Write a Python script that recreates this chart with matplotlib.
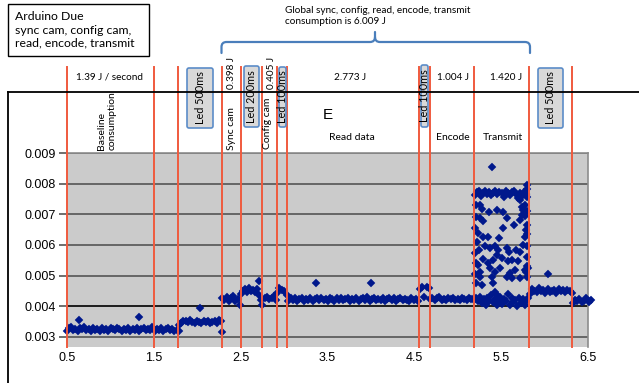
import numpy as np
import matplotlib
matplotlib.use("Agg")
import matplotlib.pyplot as plt
from matplotlib.patches import FancyBboxPatch, PathPatch
from matplotlib.path import Path

# ---------------- data (values in units of 1e-3) ----------------
baseline_span = (0.50, 1.79)
baseline = [3.20, 3.28, 3.30, 3.22, 3.25, 3.19, 3.27, 3.24, 3.30, 3.21, 3.26, 3.18, 3.28,
            3.23, 3.25, 3.20, 3.29, 3.22, 3.26, 3.19, 3.27, 3.24, 3.21, 3.28, 3.25, 3.18,
            3.26, 3.23, 3.29, 3.20, 3.25, 3.22, 3.27, 3.19, 3.24, 3.28, 3.21, 3.26, 3.23,
            3.30, 3.19, 3.25, 3.22, 3.27, 3.20, 3.24, 3.28, 3.21, 3.26, 3.18, 3.23, 3.17]
led500a_span = (1.79, 2.28)
led500a = [3.38, 3.45, 3.52, 3.50, 3.47, 3.53, 3.49, 3.46, 3.51, 3.48, 3.44, 3.50, 3.47,
           3.52, 3.45, 3.49, 3.51, 3.46, 3.53, 3.50]
sync_span = (2.29, 2.49)
sync = [4.28, 4.20, 4.30, 4.18, 4.25, 4.32, 4.15, 4.22, 4.05]
led200_span = (2.50, 2.74)
led200 = [4.40, 4.50, 4.55, 4.45, 4.58, 4.48, 4.52, 4.45, 4.55, 4.35, 4.20]
config_span = (2.75, 2.91)
config = [4.02, 4.25, 4.30, 4.22, 4.28, 4.32, 4.20]
led100a_span = (2.92, 3.03)
led100a = [4.42, 4.58, 4.52, 4.48, 4.35]
read_span = (3.05, 4.54)
read = [4.15, 4.25, 4.20, 4.28, 4.18, 4.23, 4.26, 4.17, 4.24, 4.21, 4.27, 4.16, 4.22,
        4.25, 4.19, 4.28, 4.20, 4.24, 4.18, 4.26, 4.22, 4.17, 4.25, 4.21, 4.28, 4.19,
        4.23, 4.26, 4.18, 4.24, 4.21, 4.27, 4.16, 4.23, 4.25, 4.20, 4.29, 4.18, 4.22,
        4.26, 4.19, 4.24, 4.21, 4.28, 4.17, 4.23, 4.25, 4.20, 4.27, 4.18, 4.22, 4.26,
        4.19, 4.24, 4.21, 4.15, 4.25, 4.20, 4.23, 4.18]
led100b_span = (4.56, 4.67)
led100b = [4.55, 4.63, 4.30, 4.62, 4.58]
encode_span = (4.68, 5.18)
encode = [4.22, 4.27, 4.20, 4.25, 4.30, 4.21, 4.24, 4.19, 4.26, 4.22, 4.28, 4.20, 4.24,
          4.21, 4.27, 4.23, 4.19, 4.25, 4.22, 4.26]
tx_low_span = (5.19, 5.81)
tx_low = [4.20, 4.25, 4.15, 4.30, 4.10, 4.22, 4.05, 4.28, 4.18, 4.35, 4.12, 4.24, 4.02,
          4.20, 4.30, 4.08, 4.22, 4.15, 4.38, 4.05, 4.25, 4.12, 4.20, 4.00, 4.28, 4.10,
          4.22, 4.05, 4.18, 4.25]
tx_high_span = (5.20, 5.78)
tx_high = [7.65, 7.72, 7.78, 7.60, 7.70, 7.75, 7.68, 7.74, 7.62, 7.71, 7.77, 7.66, 7.73,
           7.69, 7.58, 7.75, 7.70, 7.64, 7.72, 7.76, 7.67, 7.55, 7.71, 7.60, 7.74, 7.68]
led500b_span = (5.83, 6.31)
led500b = [4.40, 4.55, 4.50, 4.45, 4.58, 4.48, 4.52, 4.44, 4.55, 4.47, 4.50, 4.53, 4.42,
           4.56, 4.49, 4.51, 4.46, 4.54, 4.48, 4.43]
tail_span = (6.32, 6.53)
tail = [4.10, 4.20, 4.15, 4.22, 4.12, 4.18, 4.25, 4.14, 4.20]

# scattered transmit readings and isolated outliers (time s, value 1e-3)
tx_scatter_t = [5.254, 5.273, 5.362, 5.454, 5.523, 5.714, 5.733, 5.772, 5.791,
                5.254, 5.285, 5.561, 5.523, 5.645, 5.714, 5.733, 5.753,
                5.235, 5.292, 5.350, 5.477, 5.772, 5.745, 5.791,
                5.246, 5.312, 5.369, 5.427, 5.465, 5.561, 5.592, 5.668, 5.714, 5.799,
                5.292, 5.350, 5.408, 5.446, 5.503, 5.580, 5.618, 5.695, 5.810,
                5.235, 5.254, 5.369, 5.427, 5.484, 5.599, 5.657, 5.772,
                5.254, 5.273, 5.388, 5.408, 5.561, 5.618, 5.714, 5.799,
                5.427, 5.446, 5.388,
                5.800, 5.790, 5.780, 5.790, 5.770, 5.800, 5.780, 5.800, 5.790, 5.780,
                5.210, 5.210, 5.200, 5.220, 5.200, 5.210, 5.200, 5.210]
tx_scatter_v = [7.31, 7.17, 7.07, 7.15, 7.08, 7.47, 7.23, 7.31, 7.58,
                6.87, 6.80, 6.87, 6.55, 6.65, 6.82, 6.98, 7.15,
                6.40, 6.25, 6.25, 6.22, 6.25, 6.00, 5.95,
                5.84, 5.95, 5.89, 5.95, 5.84, 5.89, 5.78, 5.84, 5.78, 5.62,
                5.53, 5.40, 5.51, 5.67, 5.56, 5.46, 5.51, 5.46, 5.24,
                5.35, 5.13, 5.24, 5.13, 5.24, 5.07, 5.18, 5.18,
                4.96, 4.69, 4.96, 4.75, 4.96, 4.91, 4.91, 4.94,
                4.47, 4.37, 8.56,
                7.95, 7.82, 7.65, 7.10, 6.95, 6.65, 6.50, 6.35, 5.30, 5.10,
                7.30, 6.90, 6.55, 6.10, 5.75, 5.40, 5.05, 4.75]
outlier_t = [0.645, 1.335, 2.033, 2.290, 2.714, 3.368, 4.000, 6.032]
outlier_v = [3.56, 3.65, 3.93, 3.14, 4.81, 4.77, 4.77, 5.05]

phase_bounds = [0.5, 1.504, 1.784, 2.283, 2.501, 2.746, 2.915, 3.037, 4.552, 4.678,
                5.188, 5.821, 6.315]

x_ticks = [0.5, 1.5, 2.5, 3.5, 4.5, 5.5, 6.5]
x_tick_labels = ["0.5", "1.5", "2.5", "3.5", "4.5", "5.5", "6.5"]
y_ticks = [0.003, 0.004, 0.005, 0.006, 0.007, 0.008, 0.009]
y_tick_labels = ["0.003", "0.004", "0.005", "0.006", "0.007", "0.008", "0.009"]

segments = [(baseline_span, baseline), (led500a_span, led500a), (sync_span, sync),
            (led200_span, led200), (config_span, config), (led100a_span, led100a),
            (read_span, read), (led100b_span, led100b), (encode_span, encode),
            (tx_low_span, tx_low), (tx_high_span, tx_high), (led500b_span, led500b),
            (tail_span, tail)]

# ---------------- figure ----------------
W, H = 639, 383
fig = plt.figure(figsize=(W / 100, H / 100), dpi=100)
fig.patch.set_facecolor("white")

ax_l, ax_r, ax_t, ax_b = 66.7, 588.3, 153.3, 346.7
ax = fig.add_axes([ax_l / W, 1 - ax_b / H, (ax_r - ax_l) / W, (ax_b - ax_t) / H])
ax.set_facecolor("#cbcbcb")
ax.set_xlim(0.5, 6.5)
ax.set_ylim(0.00267, 0.009)

for yv in y_ticks:
    ax.axhline(yv, color="#000000" if abs(yv - 0.004) < 1e-9 else "#555555",
               lw=1.2, zorder=1)

pt_color = "#00188c"
mk = dict(ls="none", marker="D", ms=4.3, mfc=pt_color, mec=pt_color, mew=0.3,
          clip_on=False, zorder=3)
for (t0, t1), vals in segments:
    t = np.linspace(t0, t1, len(vals))
    ax.plot(t, np.array(vals) * 1e-3, **mk)
ax.plot(tx_scatter_t, np.array(tx_scatter_v) * 1e-3, **mk)
ax.plot(outlier_t, np.array(outlier_v) * 1e-3, **mk)

line_top = (ax_b - 67) / (ax_b - ax_t)
for xb in phase_bounds:
    ax.axvline(xb, ymin=0, ymax=line_top, color="#f05a3e", lw=1.4, clip_on=False,
               zorder=4)

ax.set_xticks(x_ticks)
ax.set_xticklabels(x_tick_labels)
ax.set_yticks(y_ticks)
ax.set_yticklabels(y_tick_labels)
tick_font = dict(family=["Liberation Sans", "DejaVu Sans"], size=9)
for lab in ax.get_xticklabels() + ax.get_yticklabels():
    lab.set_fontfamily(tick_font["family"])
    lab.set_fontsize(tick_font["size"])
ax.tick_params(axis="x", length=0, pad=4, colors="#000000")
ax.tick_params(axis="y", length=6, width=1.2, color="#555555", pad=2)
for s in ["left", "bottom"]:
    ax.spines[s].set_visible(False)
for s in ["top", "right"]:
    ax.spines[s].set_color("#8c8c8c")
    ax.spines[s].set_linewidth(1.2)

# ---------------- overlay annotations (pixel coordinates) ----------------
ov = fig.add_axes([0, 0, 1, 1], zorder=5)
ov.set_xlim(0, W)
ov.set_ylim(H, 0)
ov.axis("off")
ov.patch.set_alpha(0)

ann = ["Lato", "DejaVu Sans"]

# chart frame
ov.plot([8, W], [92, 92], color="black", lw=1.3)
ov.plot([8, 8], [92, H], color="black", lw=1.3)

# title box
ov.add_patch(plt.Rectangle((8, 4), 141, 52, fill=False, ec="black", lw=1.0))
ov.text(15, 30, "Arduino Due\nsync cam, config cam,\nread, encode, transmit",
        family=ann, fontsize=8.8, ha="left", va="center", linespacing=1.25)

# global bracket
bc = "#4a7ebb"
p1 = Path([(221.5, 53), (221.5, 47), (221.5, 42), (226.5, 42), (370, 42), (375, 42),
           (375, 37), (375, 32)],
          [Path.MOVETO, Path.LINETO, Path.CURVE3, Path.CURVE3, Path.LINETO, Path.CURVE3,
           Path.CURVE3, Path.LINETO])
p2 = Path([(375, 37), (375, 42), (380, 42), (525, 42), (530, 42), (530, 47), (530, 53)],
          [Path.MOVETO, Path.CURVE3, Path.CURVE3, Path.LINETO, Path.CURVE3, Path.CURVE3,
           Path.LINETO])
for p in (p1, p2):
    ov.add_patch(PathPatch(p, fill=False, ec=bc, lw=1.6, capstyle="round"))
ov.text(285, 16, "Global sync, config, read, encode, transmit\nconsumption is 6.009 J",
        family=ann, fontsize=7.2, ha="left", va="center", linespacing=1.3)

# energy labels
ov.text(109, 77, "1.39 J / second", family=ann, fontsize=7.2, ha="center", va="center")
ov.text(350, 77, "2.773 J", family=ann, fontsize=7.2, ha="center", va="center")
ov.text(453, 77, "1.004 J", family=ann, fontsize=7.2, ha="center", va="center")
ov.text(506, 77, "1.420 J", family=ann, fontsize=7.2, ha="center", va="center")
ov.text(232, 73, "0.398 J", family=ann, fontsize=7.2, ha="center", va="center",
        rotation=90)
ov.text(271, 73, "0.405 J", family=ann, fontsize=7.2, ha="center", va="center",
        rotation=90)

# LED boxes
boxes = [(187, 68, 26, 60, "Led 500ms"), (244, 66, 15, 61, "Led 200ms"),
         (279, 67, 7, 60, "Led 100ms"), (421, 65, 7, 62, "Led 100ms"),
         (538, 68, 25, 60, "Led 500ms")]
for bx, by, bw, bh, txt in boxes:
    ov.add_patch(FancyBboxPatch((bx, by), bw, bh, boxstyle="round,pad=0,rounding_size=2",
                                fc="#d9d9d9", ec="#5b8cc8", lw=1.2))
    ov.text(bx + bw / 2, by + bh / 2, txt, family=ann, fontsize=7.8, ha="center",
            va="center", rotation=90)

# phase labels
ov.text(107, 150, "Baseline\nconsumption", family=ann, fontsize=7.5, ha="center",
        va="bottom", rotation=90, multialignment="left", linespacing=1.15)
ov.text(231, 150, "Sync cam", family=ann, fontsize=7.5, ha="center", va="bottom",
        rotation=90)
ov.text(268, 149, "Config cam", family=ann, fontsize=7.5, ha="center", va="bottom",
        rotation=90)
ov.text(327.5, 115, "E", family=["Liberation Sans", "DejaVu Sans"], fontsize=11,
        ha="center", va="center")
ov.text(351.5, 137, "Read data", family=ann, fontsize=7.5, ha="center", va="center")
ov.text(452.5, 137, "Encode", family=ann, fontsize=7.5, ha="center", va="center")
ov.text(502.5, 137, "Transmit", family=ann, fontsize=7.5, ha="center", va="center")

fig.savefig("out.png", dpi=100)
